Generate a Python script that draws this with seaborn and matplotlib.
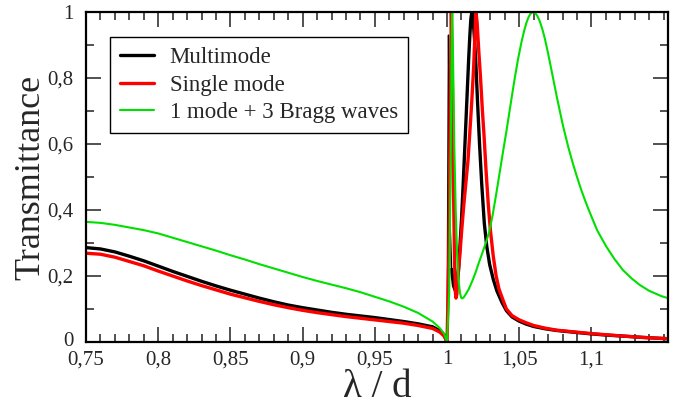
import numpy as np
import pandas as pd
import matplotlib
matplotlib.use("Agg")
import matplotlib.pyplot as plt
import seaborn as sns
from matplotlib.ticker import FixedLocator, MultipleLocator
from matplotlib.transforms import ScaledTranslation

# ---- data ----
x_black = [0.75, 0.76, 0.77, 0.78, 0.79, 0.80, 0.81, 0.82, 0.83, 0.84, 0.85, 0.86, 0.87, 0.88, 0.89, 0.90,
           0.91, 0.92, 0.93, 0.94, 0.95, 0.96, 0.97, 0.98, 0.99, 0.995, 0.998,
           1.0, 1.0005, 1.0010, 1.0015, 1.0022, 1.0032, 1.0045, 1.0058, 1.0068, 1.0078, 1.0088, 1.0100,
           1.0112, 1.0122, 1.0130, 1.0140, 1.0150, 1.0158, 1.0165, 1.0172, 1.0180, 1.0190, 1.0200, 1.0212,
           1.0225, 1.0240, 1.0258, 1.0275, 1.0295, 1.0320, 1.0345, 1.0380, 1.0411, 1.0450, 1.0500, 1.0550,
           1.0600, 1.0680, 1.0757, 1.0870, 1.0988, 1.1100, 1.1217, 1.1350, 1.1480, 1.153]
y_black = [0.286, 0.282, 0.273, 0.260, 0.246, 0.230, 0.214, 0.199, 0.184, 0.170, 0.157, 0.145, 0.133, 0.122,
           0.112, 0.104, 0.097, 0.090, 0.084, 0.079, 0.074, 0.068, 0.062, 0.055, 0.046, 0.034, 0.022,
           0.0, 0.45, 0.93, 0.6, 0.35, 0.22, 0.17, 0.155, 0.17, 0.21, 0.28, 0.37,
           0.48, 0.58, 0.66, 0.76, 0.86, 0.93, 0.98, 1.0, 0.98, 0.92, 0.84, 0.72,
           0.60, 0.48, 0.36, 0.29, 0.235, 0.19, 0.155, 0.12, 0.095, 0.076, 0.063, 0.054,
           0.047, 0.040, 0.035, 0.030, 0.025, 0.021, 0.018, 0.014, 0.011, 0.010]

x_red = [0.75, 0.76, 0.77, 0.78, 0.79, 0.80, 0.81, 0.82, 0.83, 0.84, 0.85, 0.86, 0.87, 0.88, 0.89, 0.90,
         0.91, 0.92, 0.93, 0.94, 0.95, 0.96, 0.97, 0.98, 0.99, 0.995, 0.998,
         1.0, 1.0012, 1.0022, 1.0030, 1.0038, 1.0045, 1.0052, 1.0058, 1.0062, 1.0068, 1.0076, 1.0088,
         1.0100, 1.0115, 1.0130, 1.0145, 1.0157, 1.0170, 1.0184, 1.0193, 1.0200, 1.0208, 1.0220, 1.0232,
         1.0245, 1.0256, 1.0270, 1.0285, 1.0300, 1.0320, 1.0340, 1.0360, 1.0385, 1.0411, 1.0450, 1.0500,
         1.0550, 1.0600, 1.0680, 1.0757, 1.0870, 1.0988, 1.1100, 1.1217, 1.1350, 1.1480, 1.153]
y_red = [0.269, 0.266, 0.257, 0.244, 0.231, 0.215, 0.200, 0.185, 0.171, 0.158, 0.145, 0.134, 0.123, 0.113,
         0.104, 0.096, 0.089, 0.083, 0.077, 0.072, 0.067, 0.062, 0.057, 0.050, 0.041, 0.030, 0.018,
         0.0, 0.25, 0.7, 1.0, 0.75, 0.45, 0.25, 0.15, 0.133, 0.145, 0.20, 0.26,
         0.33, 0.41, 0.48, 0.55, 0.63, 0.72, 0.83, 0.93, 1.0, 0.97, 0.88, 0.80,
         0.70, 0.627, 0.52, 0.42, 0.34, 0.26, 0.20, 0.16, 0.13, 0.10, 0.08, 0.067,
         0.058, 0.050, 0.042, 0.036, 0.031, 0.026, 0.022, 0.018, 0.014, 0.011, 0.010]

x_green = [0.75, 0.76, 0.77, 0.78, 0.79, 0.80, 0.81, 0.82, 0.83, 0.84, 0.85, 0.86, 0.87, 0.88, 0.89, 0.90,
           0.91, 0.92, 0.93, 0.94, 0.95, 0.96, 0.97, 0.98, 0.99, 0.995, 0.998,
           1.0, 1.0015, 1.0025, 1.0033, 1.0036, 1.0042, 1.0050, 1.0060, 1.0070, 1.0080, 1.0090, 1.0097,
           1.0105, 1.0115, 1.0130, 1.0150, 1.0175, 1.0197, 1.0220, 1.0243, 1.0265, 1.0290, 1.0315, 1.0340,
           1.0365, 1.0390, 1.0411, 1.0440, 1.0469, 1.0492, 1.0515, 1.0535, 1.0550, 1.0565, 1.0580, 1.0596,
           1.0612, 1.0627, 1.0642, 1.0660, 1.0677, 1.0700, 1.0723, 1.0760, 1.0803, 1.0840, 1.0872, 1.0900,
           1.0930, 1.0960, 1.0988, 1.1040, 1.1103, 1.1160, 1.1218, 1.1280, 1.1334, 1.1400, 1.1484, 1.153]
y_green = [0.364, 0.361, 0.355, 0.347, 0.339, 0.329, 0.316, 0.303, 0.290, 0.277, 0.263, 0.250, 0.236, 0.223,
           0.210, 0.197, 0.185, 0.174, 0.163, 0.151, 0.137, 0.123, 0.107, 0.088, 0.062, 0.042, 0.025,
           0.0, 0.15, 0.55, 0.95, 1.0, 0.85, 0.6, 0.4, 0.26, 0.185, 0.148, 0.135,
           0.132, 0.135, 0.145, 0.16, 0.185, 0.21, 0.24, 0.268, 0.296, 0.330, 0.383, 0.447,
           0.515, 0.583, 0.638, 0.72, 0.80, 0.858, 0.908, 0.945, 0.968, 0.985, 0.996, 1.0,
           0.996, 0.987, 0.972, 0.948, 0.92, 0.874, 0.824, 0.743, 0.655, 0.59, 0.54, 0.50,
           0.46, 0.424, 0.393, 0.338, 0.289, 0.251, 0.218, 0.192, 0.173, 0.155, 0.139, 0.133]

series_labels = ["Multimode", "Single mode", "1 mode + 3 Bragg waves"]
x_ticks = [0.75, 0.8, 0.85, 0.9, 0.95, 1.0, 1.05, 1.1]
x_tick_labels = ["0,75", "0,8", "0,85", "0,9", "0,95", "1", "1,05", "1,1"]
y_ticks = [0, 0.2, 0.4, 0.6, 0.8, 1.0]
y_tick_labels = ["0", "0,2", "0,4", "0,6", "0,8", "1"]

# ---- style ----
sns.set_theme(style="ticks")
plt.rcParams["font.family"] = ["Liberation Serif", "DejaVu Serif"]

fig = plt.figure(figsize=(6.82, 4.07), dpi=100)
ax = fig.add_axes([86 / 682, 1 - 342 / 407, (668 - 86) / 682, (342 - 12) / 407])

# black: thick main curve, thin narrow spike just above lambda/d = 1
xb = np.array(x_black)
yb = np.array(y_black)
left = xb <= 1.0
spike = (xb >= 1.0) & (xb <= 1.0032)
right = xb >= 1.0032
sns.lineplot(x=xb[left], y=yb[left], ax=ax, color="black", lw=2.4, label=series_labels[0],
             estimator=None, sort=False)
sns.lineplot(x=xb[spike], y=yb[spike], ax=ax, color="black", lw=1.0, label=None,
             estimator=None, sort=False, legend=False)
sns.lineplot(x=xb[right], y=yb[right], ax=ax, color="black", lw=2.4, label=None,
             estimator=None, sort=False, legend=False)
sns.lineplot(x=x_red, y=y_red, ax=ax, color="#ff0000", lw=2.4, label=series_labels[1],
             estimator=None, sort=False)
sns.lineplot(x=x_green, y=y_green, ax=ax, color="#00e000", lw=1.5, label=series_labels[2],
             estimator=None, sort=False)

ax.set_xlim(0.75, 1.153)
ax.set_ylim(0, 1)

ax.xaxis.set_major_locator(FixedLocator(x_ticks))
ax.set_xticklabels(x_tick_labels)
ax.xaxis.set_minor_locator(MultipleLocator(0.01))
ax.yaxis.set_major_locator(FixedLocator(y_ticks))
ax.set_yticklabels(y_tick_labels)
ax.yaxis.set_minor_locator(MultipleLocator(0.1))

ax.tick_params(which="both", direction="in", top=True, right=True, color="#333333", width=1.2)
ax.tick_params(which="major", length=11, labelsize=15, pad=6)
ax.tick_params(axis="y", which="major", pad=9)
ax.tick_params(which="minor", length=5.5)
for s in ax.spines.values():
    s.set_linewidth(1.6)
    s.set_color("black")

# lift the "0" label on the y axis a little, as in the reference
zero_lbl = ax.yaxis.get_major_ticks()[0].label1
zero_lbl.set_transform(zero_lbl.get_transform() + ScaledTranslation(0, 3 / 100, fig.dpi_scale_trans))

ax.set_xlabel("λ / d", fontsize=28, labelpad=0)
ax.set_ylabel("Transmittance", fontsize=26, labelpad=0)

handles, labels = ax.get_legend_handles_labels()
keep = [(h, l) for h, l in zip(handles, labels) if l in series_labels]
leg = ax.legend([h for h, _ in keep], [l for _, l in keep], loc="upper left",
                bbox_to_anchor=(0.0412, 0.924), borderaxespad=0,
                fontsize=16.5, frameon=True, fancybox=False, framealpha=1, edgecolor="black",
                handlelength=1.45, handletextpad=0.7, labelspacing=0.27, borderpad=0.45)
leg.get_frame().set_linewidth(1.0)

fig.savefig("out.png", dpi=100)
